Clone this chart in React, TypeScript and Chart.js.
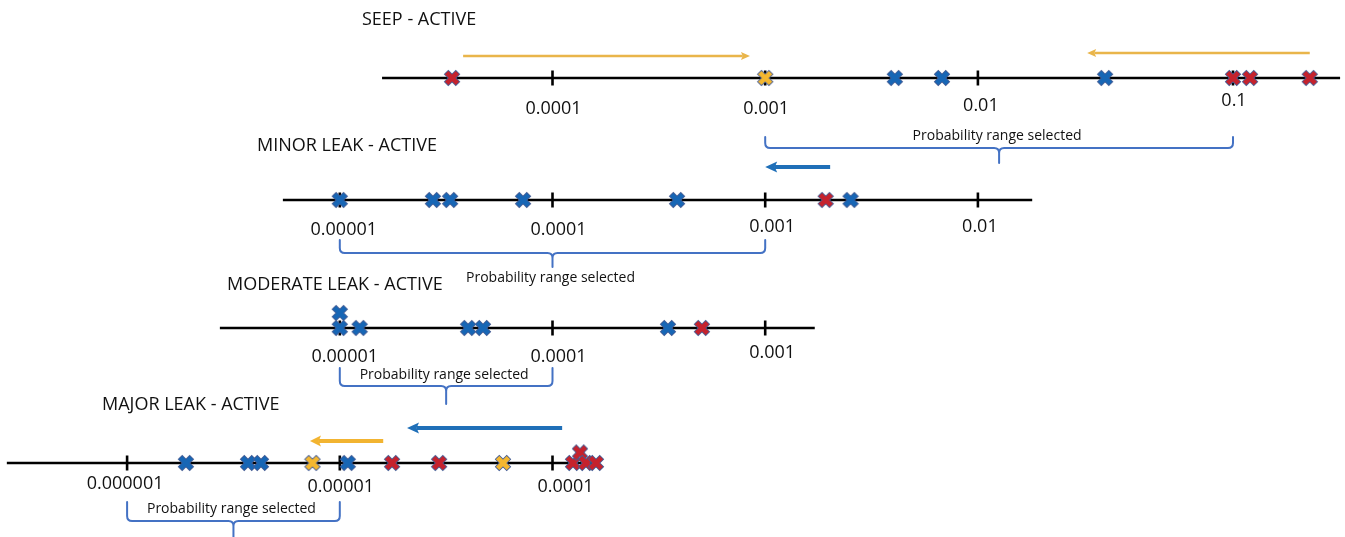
import React, { useEffect, useRef } from "react";
import { Chart, registerables } from "chart.js";

Chart.register(...registerables);

// ---------------- DATA ----------------
const rowTitles = ["SEEP - ACTIVE", "MINOR LEAK - ACTIVE", "MODERATE LEAK - ACTIVE", "MAJOR LEAK - ACTIVE"];
const rangeText = "Probability range selected";

// tick values and labels per row
const seepTicks = [0.0001, 0.001, 0.01, 0.1];
const seepTickLabels = ["0.0001", "0.001", "0.01", "0.1"];
const minorTicks = [0.00001, 0.0001, 0.001, 0.01];
const minorTickLabels = ["0.00001", "0.0001", "0.001", "0.01"];
const moderateTicks = [0.00001, 0.0001, 0.001];
const moderateTickLabels = ["0.00001", "0.0001", "0.001"];
const majorTicks = [0.000001, 0.00001, 0.0001];
const majorTickLabels = ["0.000001", "0.00001", "0.0001"];

// extent of each probability line [from, to]
const seepLine = [0.0000158, 0.263];
const minorLine = [0.0000054, 0.018];
const moderateLine = [0.00000273, 0.00171];
const majorLine = [0.000000272, 0.000167];

// markers (probabilities)
const seepBlue = [0.00407, 0.00678, 0.0315];
const seepRed = [0.0000337, 0.1, 0.1166, 0.2];
const seepYellow = [0.001];

const minorBlue = [0.00001, 0.0000274, 0.000033, 0.0000727, 0.000385, 0.00252];
const minorRed = [0.001925];

const moderateBlue = [0.00001, 0.00001, 0.0000124, 0.0000401, 0.0000471, 0.000349];
const moderateBlueStack = [1, 0, 0, 0, 0, 0];
const moderateRed = [0.000504];

const majorBlue = [0.00000189, 0.0000037, 0.00000426, 0.0000109];
const majorRed = [0.0000176, 0.0000293, 0.0001248, 0.0001346, 0.0001437, 0.0001601];
const majorRedStack = [0, 0, 0, 0.7, 0, 0];
const majorYellow = [0.00000744, 0.0000585];

// selected probability ranges (braces)
const seepRange = [0.001, 0.1];
const minorRange = [0.00001, 0.001];
const moderateRange = [0.00001, 0.0001];
const majorRange = [0.000001, 0.00001];

// shift arrows [from, to]
const seepArrows = [[0.000038, 0.000848], [0.2, 0.0268]];
const minorArrows = [[0.00202, 0.001]];
const majorArrows = [[0.000111, 0.0000207], [0.000016, 0.00000724]];

// ---------------- STYLE / LAYOUT ----------------
const W = 1345;
const H = 537;
const DECADE = 212.7; // px per decade, main axis
const ANCHOR = 552.5; // px of 1e-4 on main axis
const DECADE2 = 255; // px per decade on seep upper section
const ANCHOR2 = 978; // px of 0.01 on seep upper section

const C_BLUE = "#1766B5";
const C_RED = "#C5222D";
const C_YELLOW = "#F4B730";
const C_OUTLINE = "#445C94";
const C_BRACE = "#4472C4";
const C_ARROW_BLUE = "#1F6FB8";
const C_ARROW_YELLOW = "#F2B431";
const C_ARROW_YELLOW_THIN = "#E9B54A";
const FONT = "'Open Sans', 'Noto Sans', sans-serif";
const STACK_PX = 15;

const ROWS = [
  {
    title: rowTitles[0], titleX: 362, titleY: 20, base: 78, split: 0.01,
    line: seepLine, ticks: seepTicks, labels: seepTickLabels,
    labelDx: [1, 1, 3, 1], labelDy: [31, 31, 28, 23],
    range: seepRange, brace: { top: 59, h: 70, tip: 85, textDy: 58 },
    arrows: seepArrows, arrowColors: [C_ARROW_YELLOW_THIN, C_ARROW_YELLOW_THIN], arrowDy: [-22, -25], arrowW: [2.4, 2.4], headL: [9, 9], headW: [8, 8],
    markers: [
      { vals: seepBlue, color: "blue" },
      { vals: seepRed, color: "red" },
      { vals: seepYellow, color: "yellow" },
    ],
  },
  {
    title: rowTitles[1], titleX: 257, titleY: 146, base: 200, split: null,
    line: minorLine, ticks: minorTicks, labels: minorTickLabels,
    labelDx: [4, 6, 7, 2], labelDy: [30, 30, 27, 27],
    range: minorRange, brace: { top: 40, h: 53, tip: 67, textDy: 78 },
    arrows: minorArrows, arrowColors: [C_ARROW_BLUE], arrowDy: [-33], arrowW: [4], headL: [12], headW: [11],
    markers: [
      { vals: minorBlue, color: "blue" },
      { vals: minorRed, color: "red" },
    ],
  },
  {
    title: rowTitles[2], titleX: 227, titleY: 285, base: 328, split: null,
    line: moderateLine, ticks: moderateTicks, labels: moderateTickLabels,
    labelDx: [5, 6, 7], labelDy: [29, 29, 25],
    range: moderateRange, brace: { top: 40, h: 58, tip: 76, textDy: 47 },
    arrows: [], arrowColors: [], arrowDy: [], arrowW: [], headL: [], headW: [],
    markers: [
      { vals: moderateBlue, color: "blue", stack: moderateBlueStack },
      { vals: moderateRed, color: "red" },
    ],
  },
  {
    title: rowTitles[3], titleX: 102, titleY: 405, base: 463, split: null,
    line: majorLine, ticks: majorTicks, labels: majorTickLabels,
    labelDx: [-2, 1, 13], labelDy: [21, 24, 24],
    range: majorRange, brace: { top: 39, h: 58, tip: 76, textDy: 46 },
    arrows: majorArrows, arrowColors: [C_ARROW_BLUE, C_ARROW_YELLOW], arrowDy: [-35, -22], arrowW: [4, 4], headL: [12, 11], headW: [11, 11],
    markers: [
      { vals: majorBlue, color: "blue" },
      { vals: majorRed, color: "red", stack: majorRedStack },
      { vals: majorYellow, color: "yellow" },
    ],
  },
];

function makeCross(fill: string, outline: string) {
  const s = 18;
  const c = document.createElement("canvas");
  c.width = s;
  c.height = s;
  const g = c.getContext("2d")!;
  g.lineCap = "butt";
  const a = 3.6;
  const b = s - 3.6;
  const draw = (w: number, col: string, e: number) => {
    g.strokeStyle = col;
    g.lineWidth = w;
    g.beginPath();
    g.moveTo(a - e, a - e);
    g.lineTo(b + e, b + e);
    g.moveTo(b + e, a - e);
    g.lineTo(a - e, b + e);
    g.stroke();
  };
  draw(6.4, outline, 0.6);
  draw(4.8, fill, 0);
  return c;
}

function axisOf(row: any, v: number) {
  return row.split != null && v > row.split ? "x2" : "x";
}

function buildDatasets(crosses: Record<string, HTMLCanvasElement>) {
  const ds: any[] = [];
  ROWS.forEach((row) => {
    const b = row.base;
    const segs: [number, number, string][] = row.split != null
      ? [[row.line[0], row.split, "x"], [row.split, row.line[1], "x2"]]
      : [[row.line[0], row.line[1], "x"]];
    segs.forEach(([a, c, ax]) => {
      ds.push({
        type: "line", xAxisID: ax, yAxisID: "y",
        data: [{ x: a, y: b }, { x: c, y: b }],
        borderColor: "#000", borderWidth: 2.6, pointRadius: 0, showLine: true, fill: false, order: 3,
      });
    });
    ["x", "x2"].forEach((ax) => {
      const t = row.ticks.filter((v) => axisOf(row, v) === ax);
      if (t.length) {
        ds.push({
          type: "scatter", xAxisID: ax, yAxisID: "y",
          data: t.map((v) => ({ x: v, y: b })),
          pointStyle: "line", rotation: 90, pointRadius: 7.5,
          borderColor: "#000", borderWidth: 2.6, order: 2,
        });
      }
    });
    row.markers.forEach((m: any) => {
      ["x", "x2"].forEach((ax) => {
        const pts: any[] = [];
        m.vals.forEach((v: number, i: number) => {
          if (axisOf(row, v) !== ax) return;
          const st = m.stack ? m.stack[i] : 0;
          pts.push({ x: v, y: b - st * STACK_PX });
        });
        if (pts.length) {
          ds.push({
            type: "scatter", xAxisID: ax, yAxisID: "y", data: pts,
            pointStyle: crosses[m.color], pointRadius: 7, order: 1,
          });
        }
      });
    });
  });
  return ds;
}

const overlayPlugin = {
  id: "overlay",
  beforeDatasetsDraw(chart: any) {
    const ctx = chart.ctx;
    const ys = chart.scales.y;
    const px = (row: any, v: number) => chart.scales[axisOf(row, v)].getPixelForValue(v);
    ctx.save();
    ROWS.forEach((row: any) => {
      const base = ys.getPixelForValue(row.base);
      // braces
      const x1 = px(row, row.range[0]);
      const x2 = px(row, row.range[1]);
      const xm = (x1 + x2) / 2;
      const yTop = base + row.brace.top;
      const yH = base + row.brace.h;
      const yTip = base + row.brace.tip;
      const r = 5;
      ctx.strokeStyle = C_BRACE;
      ctx.lineWidth = 2;
      ctx.lineCap = "round";
      ctx.beginPath();
      ctx.moveTo(x1, yTop);
      ctx.lineTo(x1, yH - r);
      ctx.quadraticCurveTo(x1, yH, x1 + r, yH);
      ctx.lineTo(xm - r, yH);
      ctx.quadraticCurveTo(xm, yH, xm, yH + r);
      ctx.lineTo(xm, yTip);
      ctx.moveTo(xm, yH + r);
      ctx.quadraticCurveTo(xm, yH, xm + r, yH);
      ctx.lineTo(x2 - r, yH);
      ctx.quadraticCurveTo(x2, yH, x2, yH - r);
      ctx.lineTo(x2, yTop);
      ctx.stroke();
      ctx.fillStyle = "#111";
      ctx.font = `14px ${FONT}`;
      ctx.textAlign = "center";
      ctx.textBaseline = "middle";
      ctx.fillText(rangeText, xm - 2, base + row.brace.textDy);

      // arrows
      row.arrows.forEach((a: number[], i: number) => {
        const xf = px(row, a[0]);
        const xt = px(row, a[1]);
        const y = base + row.arrowDy[i];
        const dir = Math.sign(xt - xf);
        const hl = row.headL[i];
        const hw = row.headW[i];
        ctx.strokeStyle = row.arrowColors[i];
        ctx.fillStyle = row.arrowColors[i];
        ctx.lineWidth = row.arrowW[i];
        ctx.lineCap = "butt";
        ctx.beginPath();
        ctx.moveTo(xf, y);
        ctx.lineTo(xt - dir * hl * 0.8, y);
        ctx.stroke();
        ctx.beginPath();
        ctx.moveTo(xt, y);
        ctx.lineTo(xt - dir * hl, y - hw / 2);
        ctx.lineTo(xt - dir * hl * 0.8, y);
        ctx.lineTo(xt - dir * hl, y + hw / 2);
        ctx.closePath();
        ctx.fill();
      });
    });
    ctx.restore();
  },
  afterDatasetsDraw(chart: any) {
    const ctx = chart.ctx;
    const ys = chart.scales.y;
    const px = (row: any, v: number) => chart.scales[axisOf(row, v)].getPixelForValue(v);
    ctx.save();
    ctx.fillStyle = "#111";
    ctx.textBaseline = "middle";
    ROWS.forEach((row: any) => {
      const base = ys.getPixelForValue(row.base);
      ctx.font = `18px ${FONT}`;
      ctx.textAlign = "left";
      ctx.fillText(row.title, row.titleX, row.titleY);
      ctx.textAlign = "center";
      ctx.font = `18px ${FONT}`;
      row.ticks.forEach((v: number, i: number) => {
        ctx.fillText(row.labels[i], px(row, v) + row.labelDx[i], base + row.labelDy[i]);
      });
    });
    ctx.restore();
  },
};

export default function App() {
  const ref = useRef<HTMLCanvasElement>(null);
  useEffect(() => {
    document.body.style.margin = "0";
    const canvas = ref.current!;
    const crosses = {
      blue: makeCross(C_BLUE, C_OUTLINE),
      red: makeCross(C_RED, C_OUTLINE),
      yellow: makeCross(C_YELLOW, C_OUTLINE),
    };
    const chart = new Chart(canvas, {
      type: "scatter",
      data: { datasets: buildDatasets(crosses) },
      options: {
        responsive: false,
        animation: false,
        events: [],
        layout: { padding: 0, autoPadding: false },
        plugins: { legend: { display: false }, tooltip: { enabled: false }, title: { display: false } },
        scales: {
          x: {
            type: "logarithmic", axis: "x", position: "bottom", display: false, bounds: "data",
            min: Math.pow(10, -4 - ANCHOR / DECADE),
            max: Math.pow(10, -4 + (W - ANCHOR) / DECADE),
          },
          x2: {
            type: "logarithmic", axis: "x", position: "bottom", display: false, bounds: "data",
            min: Math.pow(10, -2 - ANCHOR2 / DECADE2),
            max: Math.pow(10, -2 + (W - ANCHOR2) / DECADE2),
          },
          y: { type: "linear", display: false, min: 0, max: H, reverse: true },
        },
      } as any,
      plugins: [overlayPlugin],
    } as any);
    return () => chart.destroy();
  }, []);
  return (
    <div style={{ width: W, height: H, background: "#fff" }}>
      <canvas ref={ref} width={W} height={H} style={{ display: "block" }} />
    </div>
  );
}
